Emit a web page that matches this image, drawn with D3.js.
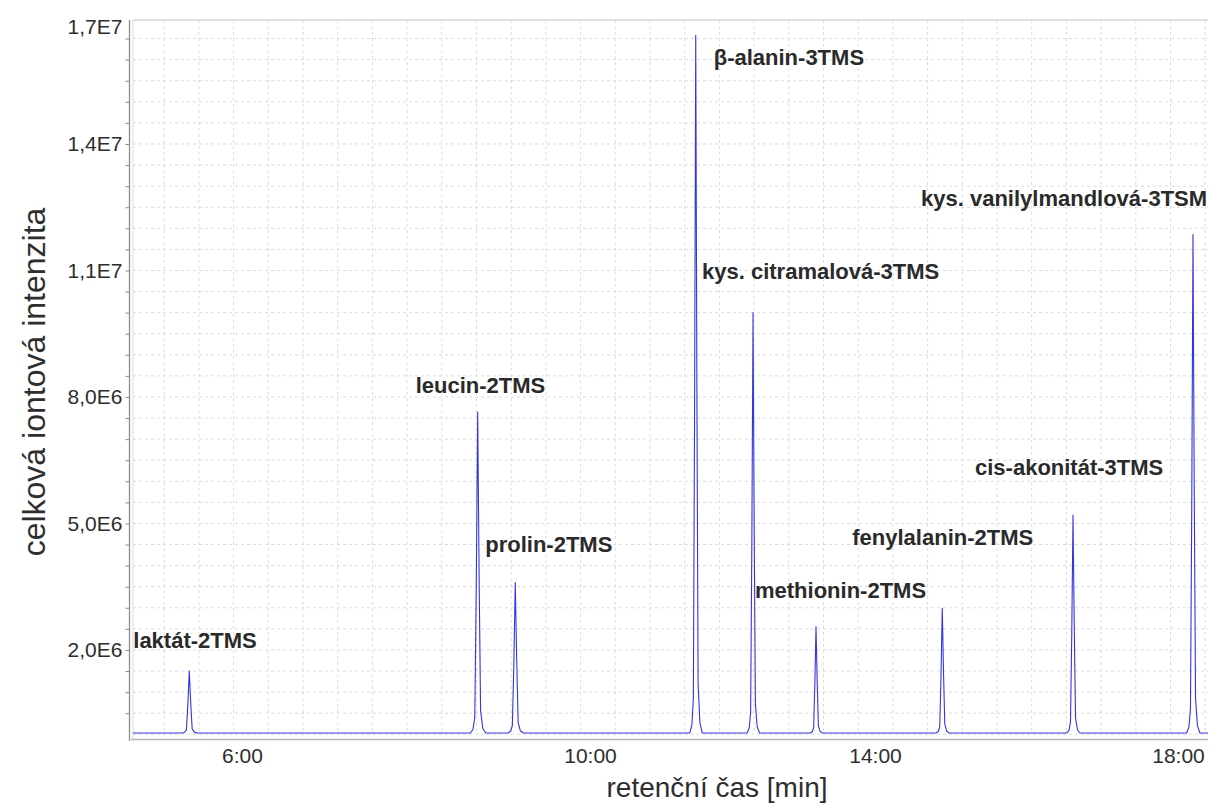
<!DOCTYPE html>
<html>
<head>
<meta charset="utf-8">
<script src="https://cdn.jsdelivr.net/npm/d3@7"></script>
<style>
  body { margin: 0; background: #fff; }
  text { font-family: "Liberation Sans", Arial, Helvetica, sans-serif; }
</style>
</head>
<body>
<svg id="chart" width="1215" height="805"></svg>
<script>
// ---- data -------------------------------------------------------------
// identified compounds (TIC peaks)
const peakNames = [
  "laktát-2TMS", "leucin-2TMS", "prolin-2TMS", "β-alanin-3TMS",
  "kys. citramalová-3TMS", "methionin-2TMS", "fenylalanin-2TMS",
  "cis-akonitát-3TMS", "kys. vanilylmandlová-3TSM"
];
// retention time of the apex [min]
const peakTimes = [5.394, 8.709, 9.141, 11.484, 12.288, 13.172, 14.888, 16.614, 18.198];
// apex intensity [counts]
const peakHeights = [1.50e6, 7.64e6, 3.60e6, 16.58e6, 10.0e6, 2.55e6, 2.99e6, 5.20e6, 11.85e6];

// common peak profile: offset from apex [s] and fraction of apex height
const profileOffsets = [-5, -3.2, -2, -1, 0, 1, 2, 3.5, 5.5];
const profileShape   = [0, 0.012, 0.05, 0.45, 1, 0.48, 0.07, 0.015, 0];

// baseline level [counts]
const baselineLevel = 0.03e6;

// axis ticks
const xTickMinutes = [6, 10, 14, 18];
const xTickLabels  = ["6:00", "10:00", "14:00", "18:00"];
const yMajorValues = [2e6, 5e6, 8e6, 1.1e7, 1.4e7, 1.7e7];
const yMajorLabels = ["2,0E6", "5,0E6", "8,0E6", "1,1E7", "1,4E7", "1,7E7"];
const yMinorStep   = 0.5e6;

// ---- layout -----------------------------------------------------------
const plot = { left: 133, right: 1208, top: 20, bottom: 734.3 };
const axisX = 129.5, axisY = 739.5;

// label anchor offsets from each apex, in px
const labelOffsets = [
  [-56, -23], [-62, -19], [-30, -31], [18, 30], [-51, -34],
  [-61, -29], [-90, -63], [-98, -40], [-272, -29]
];

const svg = d3.select("#chart");

// time axis with tick-anchored segments
const x = d3.scaleLinear()
  .domain(xTickMinutes)
  .range([242, 590, 875, 1178]);
const tStart = x.invert(plot.left), tEnd = x.invert(plot.right);

const y = d3.scaleLinear().domain([0, 1.694e7]).range([plot.bottom, plot.top]);

// ---- grid -------------------------------------------------------------
const grid = svg.append("g")
  .attr("stroke", "#dcdcdc").attr("stroke-width", 1)
  .attr("stroke-dasharray", "3,3").attr("fill", "none");

const hVals = d3.range(0, y.domain()[1], yMinorStep);
grid.selectAll("line.h").data(hVals).join("line")
  .attr("x1", plot.left).attr("x2", plot.right)
  .attr("y1", d => y(d)).attr("y2", d => y(d));

const vStep = 34.7;
const vPos = d3.range(axisX + vStep, plot.right, vStep);
grid.selectAll("line.v").data(vPos).join("line")
  .attr("x1", d => d).attr("x2", d => d)
  .attr("y1", plot.top).attr("y2", plot.bottom);

// frame
svg.append("line").attr("x1", plot.left).attr("x2", plot.right)
  .attr("y1", plot.top).attr("y2", plot.top)
  .attr("stroke", "#d6d6d6").attr("stroke-width", 1.5);
svg.append("line").attr("x1", plot.left).attr("x2", plot.left)
  .attr("y1", plot.top).attr("y2", axisY)
  .attr("stroke", "#e2e2e2").attr("stroke-width", 1.2);

// ---- trace ------------------------------------------------------------
const trace = [[tStart, baselineLevel]];
peakTimes.forEach((t, i) => {
  profileOffsets.forEach((o, k) => {
    trace.push([t + o / 60, baselineLevel + (peakHeights[i] - baselineLevel) * profileShape[k]]);
  });
});
trace.push([tEnd, baselineLevel]);

svg.append("path")
  .datum(trace)
  .attr("fill", "none")
  .attr("stroke", "#3535e0")
  .attr("stroke-width", 1.1)
  .attr("stroke-linejoin", "round")
  .attr("d", d3.line().x(d => x(d[0])).y(d => y(d[1])));

// ---- axes -------------------------------------------------------------
// y axis
const yTickVals = d3.range(yMinorStep, y.domain()[1], yMinorStep);
const yAxisG = svg.append("g").attr("transform", `translate(${axisX},0)`)
  .call(d3.axisLeft(y).tickValues(yTickVals).tickSize(4).tickSizeOuter(0).tickFormat(""));
yAxisG.select(".domain").remove();
yAxisG.selectAll(".tick line").attr("stroke", "#8a8a8a");
svg.append("line").attr("x1", axisX).attr("x2", axisX)
  .attr("y1", plot.top).attr("y2", axisY + 1.5)
  .attr("stroke", "#8f8f8f").attr("stroke-width", 1.3);

svg.append("g").selectAll("text").data(yMajorValues).join("text")
  .attr("x", axisX - 7)
  .attr("y", d => Math.max(y(d), plot.top + 7))
  .attr("dy", "0.35em")
  .attr("text-anchor", "end")
  .attr("font-size", 21)
  .attr("fill", "#2e2e2e")
  .text((d, i) => yMajorLabels[i]);

// x axis
svg.append("line").attr("x1", plot.left - 2).attr("x2", plot.right)
  .attr("y1", axisY).attr("y2", axisY)
  .attr("stroke", "#b4b4b4").attr("stroke-width", 1.6);
const xAxisG = svg.append("g").attr("transform", `translate(0,${axisY})`)
  .call(d3.axisBottom(x).tickValues(xTickMinutes).tickSize(0).tickPadding(9)
    .tickFormat((d, i) => xTickLabels[i]));
xAxisG.select(".domain").remove();
xAxisG.selectAll("text")
  .attr("font-size", 21)
  .attr("font-family", "\"Liberation Sans\", Arial, sans-serif")
  .attr("fill", "#2e2e2e");

// axis titles
svg.append("text")
  .attr("x", 717).attr("y", 797)
  .attr("text-anchor", "middle").attr("font-size", 28).attr("fill", "#2e2e2e")
  .text("retenční čas [min]");
svg.append("text")
  .attr("transform", `translate(45,382) rotate(-90)`)
  .attr("text-anchor", "middle").attr("font-size", 32).attr("fill", "#2e2e2e")
  .text("celková iontová intenzita");

// ---- peak labels ------------------------------------------------------
svg.append("g").selectAll("text").data(peakNames).join("text")
  .attr("x", (d, i) => x(peakTimes[i]) + labelOffsets[i][0])
  .attr("y", (d, i) => y(peakHeights[i]) + labelOffsets[i][1])
  .attr("font-size", 22)
  .attr("font-weight", "bold")
  .attr("fill", "#2a2a2a")
  .text(d => d);
</script>
</body>
</html>
